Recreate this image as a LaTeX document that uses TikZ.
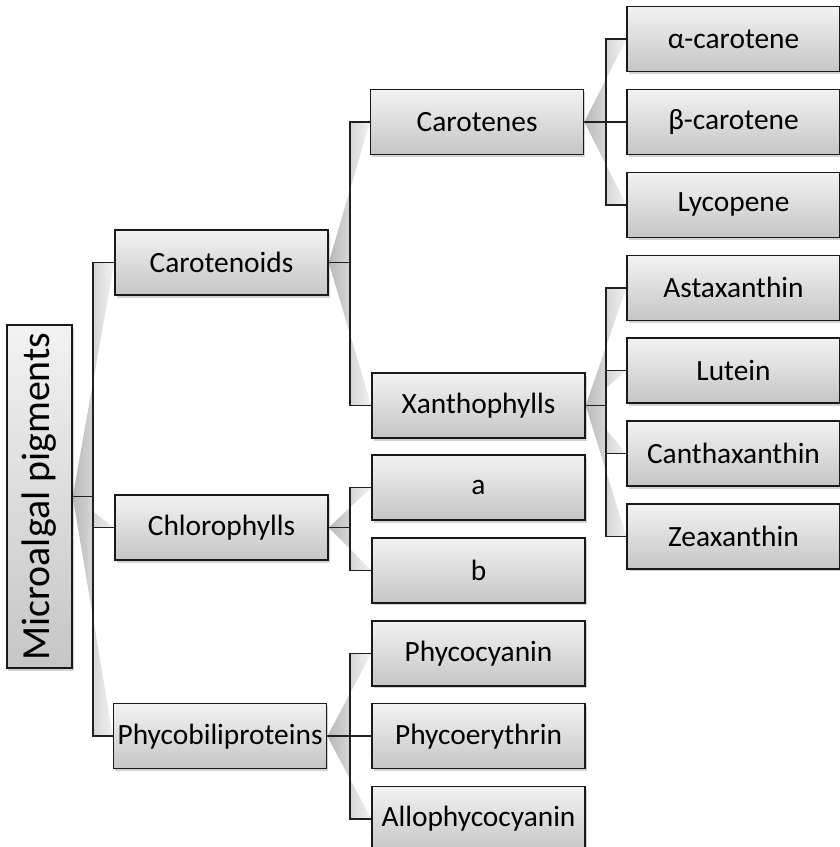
\documentclass[tikz,border=0pt]{standalone}
\usepackage{fontspec}
\setmainfont{Carlito}
\usetikzlibrary{positioning,shadows,backgrounds}

\begin{document}
\begin{tikzpicture}[x=1bp, y=-1bp,
  bx/.style={draw=gray!20!black, line width=1.4bp, top color=gray!10, bottom color=gray!45,
    minimum width=213bp, minimum height=65bp, inner sep=0pt,
    font=\fontsize{29.5}{33}\selectfont,
    drop shadow={shadow xshift=1.5bp, shadow yshift=-2.5bp, opacity=.35}},
  ln/.style={draw=gray!25!black, line width=1.6bp},
  wedge/.style={left color=gray!55, right color=gray!10}
]
\useasboundingbox (0,0) rectangle (840,847);

% root
\node[bx, rotate=90, minimum width=343bp, font=\fontsize{40}{44}\selectfont] (mp) at (39.5,496.5) {Microalgal pigments};

% right column
\node[bx] (ac) at (733.5,39) {α-carotene};
\node[bx, below=16.5bp of ac] (bc) {β-carotene};
\node[bx, below=16.5bp of bc] (ly) {Lycopene};
\node[bx, below=16.5bp of ly] (ast) {Astaxanthin};
\node[bx, below=16.5bp of ast] (lu) {Lutein};
\node[bx, below=16.5bp of lu] (cx) {Canthaxanthin};
\node[bx, below=16.5bp of cx] (ze) {Zeaxanthin};

% middle column
\node[bx, left=42bp of bc] (ct) {Carotenes};
\node[bx] (xa) at (478.5,405.5) {Xanthophylls};
\node[bx] (cla) at (478.5,487.5) {a};
\node[bx, below=16.5bp of cla] (clb) {b};
\node[bx, below=16.5bp of clb] (pc) {Phycocyanin};
\node[bx, below=16.5bp of pc] (pe) {Phycoerythrin};
\node[bx, below=16.5bp of pe] (ap) {Allophycocyanin};

% first level
\node[bx] (cd) at (221.5,262.5) {Carotenoids};
\node[bx] (ch) at (221.5,527.5) {Chlorophylls};
\node[bx, left=44bp of pe] (pb) {Phycobiliproteins};

\coordinate (f0) at (93,0);
\coordinate (f1) at (350,0);
\coordinate (f2) at (606,0);

\begin{scope}[on background layer]
% wedges
\foreach \c in {cd,ch,pb}
  \path[wedge] (mp.south) -- (mp.south -| f0) -- (\c.west -| f0) -- (\c.west) -- cycle;
\foreach \c in {ct,xa}
  \path[wedge] (cd.east) -- (cd.east -| f1) -- (\c.west -| f1) -- (\c.west) -- cycle;
\foreach \c in {cla,clb}
  \path[wedge] (ch.east) -- (ch.east -| f1) -- (\c.west -| f1) -- (\c.west) -- cycle;
\foreach \c in {pc,ap}
  \path[wedge] (pb.east) -- (pb.east -| f1) -- (\c.west -| f1) -- (\c.west) -- cycle;
\foreach \c in {ac,ly}
  \path[wedge] (ct.east) -- (ct.east -| f2) -- (\c.west -| f2) -- (\c.west) -- cycle;
\foreach \c in {ast,lu,cx,ze}
  \path[wedge] (xa.east) -- (xa.east -| f2) -- (\c.west -| f2) -- (\c.west) -- cycle;
% forks
\foreach \c in {cd,ch,pb}
  \draw[ln] (mp.south) -- (mp.south -| f0) |- (\c.west);
\foreach \c in {ct,xa}
  \draw[ln] (cd.east) -- (cd.east -| f1) |- (\c.west);
\foreach \c in {cla,clb}
  \draw[ln] (ch.east) -- (ch.east -| f1) |- (\c.west);
\foreach \c in {pc,pe,ap}
  \draw[ln] (pb.east) -- (pb.east -| f1) |- (\c.west);
\foreach \c in {ac,bc,ly}
  \draw[ln] (ct.east) -- (ct.east -| f2) |- (\c.west);
\foreach \c in {ast,lu,cx,ze}
  \draw[ln] (xa.east) -- (xa.east -| f2) |- (\c.west);
\end{scope}
\end{tikzpicture}
\end{document}
